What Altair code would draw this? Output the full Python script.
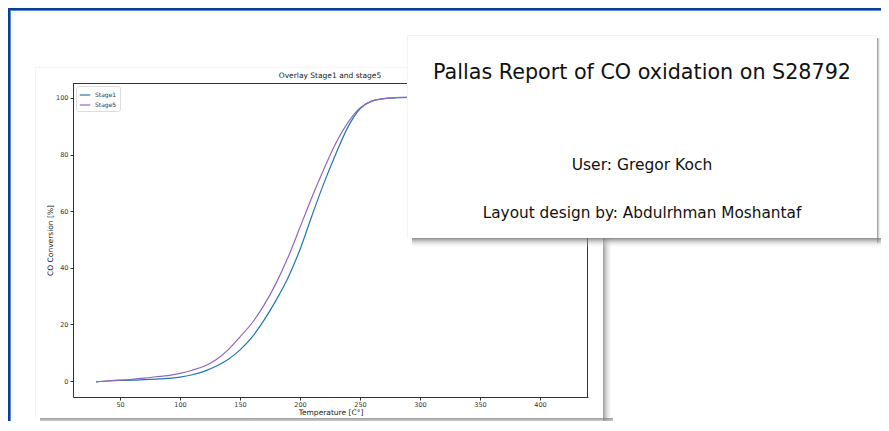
import altair as alt
import pandas as pd

# ---- data ----
temps = [30, 40, 50, 60, 70, 80, 90, 100, 110, 120, 130, 140, 150, 160, 170, 180,
         190, 200, 210, 220, 230, 240, 250, 260, 270, 280, 290, 300, 320, 340,
         360, 380, 400, 420]
stage1 = [-0.3, 0.0, 0.2, 0.3, 0.5, 0.7, 0.9, 1.4, 2.2, 3.4, 5.2, 7.6, 11.0, 15.5,
          21.5, 28.5, 36.5, 46.5, 58.5, 70.0, 80.4, 89.8, 96.2, 98.9, 99.8, 100.1,
          100.2, 100.2, 100.2, 100.2, 100.2, 100.2, 100.2, 100.2]
stage5 = [-0.3, 0.1, 0.3, 0.6, 1.0, 1.5, 1.9, 2.7, 3.8, 5.2, 7.5, 11.0, 15.6, 20.5,
          26.8, 34.5, 43.7, 54.3, 65.0, 75.0, 84.2, 91.4, 96.5, 99.0, 99.8, 100.1,
          100.2, 100.2, 100.2, 100.2, 100.2, 100.2, 100.2, 100.2]
series_names = ["Stage1", "Stage5"]
series_colors = ["#1f77b4", "#9467bd"]
x_ticks = [50, 100, 150, 200, 250, 300, 350, 400]
y_ticks = [0, 20, 40, 60, 80, 100]

chart_title = "Overlay Stage1 and stage5"
x_title = "Temperature [C°]"
y_title = "CO Conversion [%]"
report_title = "Pallas Report of CO oxidation on S28792"
user_line = "User: Gregor Koch"
layout_line = "Layout design by: Abdulrhman Moshantaf"

rows = []
for name, vals in zip(series_names, [stage1, stage5]):
    for t, v in zip(temps, vals):
        rows.append({"T": t, "conv": v, "series": name})
df = pd.DataFrame(rows)

W, H = 515, 314
FONT = "DejaVu Sans"
one = alt.Data(values=[{}])


def rect(x, x2, y, y2, **kw):
    return alt.Chart(one).mark_rect(**kw).encode(
        x=alt.value(x), x2=alt.value(x2), y=alt.value(y), y2=alt.value(y2))


def hgrad(c0):
    return alt.Gradient(gradient="linear", x1=0, x2=1, y1=0, y2=0,
                        stops=[alt.GradientStop(color=c0, offset=0),
                               alt.GradientStop(color="rgba(255,255,255,0)", offset=1)])


def vgrad(c0):
    return alt.Gradient(gradient="linear", x1=0, x2=0, y1=0, y2=1,
                        stops=[alt.GradientStop(color=c0, offset=0),
                               alt.GradientStop(color="rgba(255,255,255,0)", offset=1)])


def text(s, x, y, size, color="#111"):
    return alt.Chart(one).mark_text(text=s, font=FONT, fontSize=size, color=color,
                                    baseline="middle", align="center").encode(
        x=alt.value(x), y=alt.value(y))


# page frame (blue, top + left)
frame = [
    rect(-65, 808, -75, -73, color="#0b3f91"),
    rect(-65, -63, -75, 345, color="#0b3f91"),
    rect(-63, 808, -73, -72, color="#5a8ad6"),
    rect(-63, -62, -73, 345, color="#5a8ad6"),
]

# chart card edge + shadow
card1 = [
    rect(-38, 530, -16, -15, color="#f4f4f4"),
    rect(-38, -37, -16, 335, color="#f4f4f4"),
    rect(530, 540, -8, 343, fill=hgrad("rgba(120,120,120,0.75)")),
    rect(-33, 540, 335, 345, fill=vgrad("rgba(120,120,120,0.75)")),
]

lines = alt.Chart(df).mark_line(strokeWidth=1.2, interpolate="monotone").encode(
    x=alt.X("T:Q", scale=alt.Scale(domain=[10.8, 440], nice=False, zero=False),
            axis=alt.Axis(values=x_ticks, title=x_title, grid=False,
                          labelFontSize=6.5, titleFontSize=7.5, labelPadding=1,
                          titlePadding=1, tickSize=3, domainColor="#333",
                          tickColor="#333", labelColor="#333", titleColor="#222",
                          labelFont=FONT, titleFont=FONT, titleFontWeight="normal")),
    y=alt.Y("conv:Q", scale=alt.Scale(domain=[-5.65, 105.3], nice=False, zero=False),
            axis=alt.Axis(values=y_ticks, title=y_title, grid=False,
                          labelFontSize=6.5, titleFontSize=7.5, labelPadding=2,
                          titlePadding=1, tickSize=3, domainColor="#333",
                          tickColor="#333", labelColor="#333", titleColor="#222",
                          labelFont=FONT, titleFont=FONT, titleFontWeight="normal")),
    color=alt.Color("series:N",
                    scale=alt.Scale(domain=series_names, range=series_colors),
                    legend=alt.Legend(orient="top-left", title=None, offset=3,
                                      symbolType="stroke", symbolSize=110,
                                      symbolStrokeWidth=1.2, labelFontSize=6,
                                      labelFont=FONT, labelColor="#333",
                                      fillColor="white", strokeColor="#dddddd",
                                      padding=3, cornerRadius=2, rowPadding=1)),
    order="T:Q",
)

spines = [
    rect(0, W, 0, 1, color="#333"),
    rect(W - 1, W, 0, H, color="#333"),
]

ctitle = text(chart_title, 257, -7, 7.5, color="#222")

# report text card
card2 = [
    rect(334, 804, -48, 155, color="white"),
    rect(334, 804, -48, -47, color="#f2f2f2"),
    rect(334, 335, -48, 155, color="#f5f5f5"),
    rect(804, 808, -45, 160, fill=hgrad("rgba(110,110,110,0.8)")),
    rect(339, 808, 155, 165, fill=vgrad("rgba(110,110,110,0.8)")),
    text(report_title, 569, -10, 20.7),
    text(user_line, 569, 82, 15.5),
    text(layout_line, 569, 130, 15.3),
]

chart = alt.layer(*frame, *card1, lines, *spines, ctitle, *card2).properties(
    width=W, height=H,
    autosize=alt.AutoSizeParams(type="none"),
    padding={"left": 65, "top": 75, "right": 293, "bottom": 24},
    background="white",
).configure_view(stroke=None)

chart.save("out.html", embed_options={"renderer": "svg", "actions": False})
